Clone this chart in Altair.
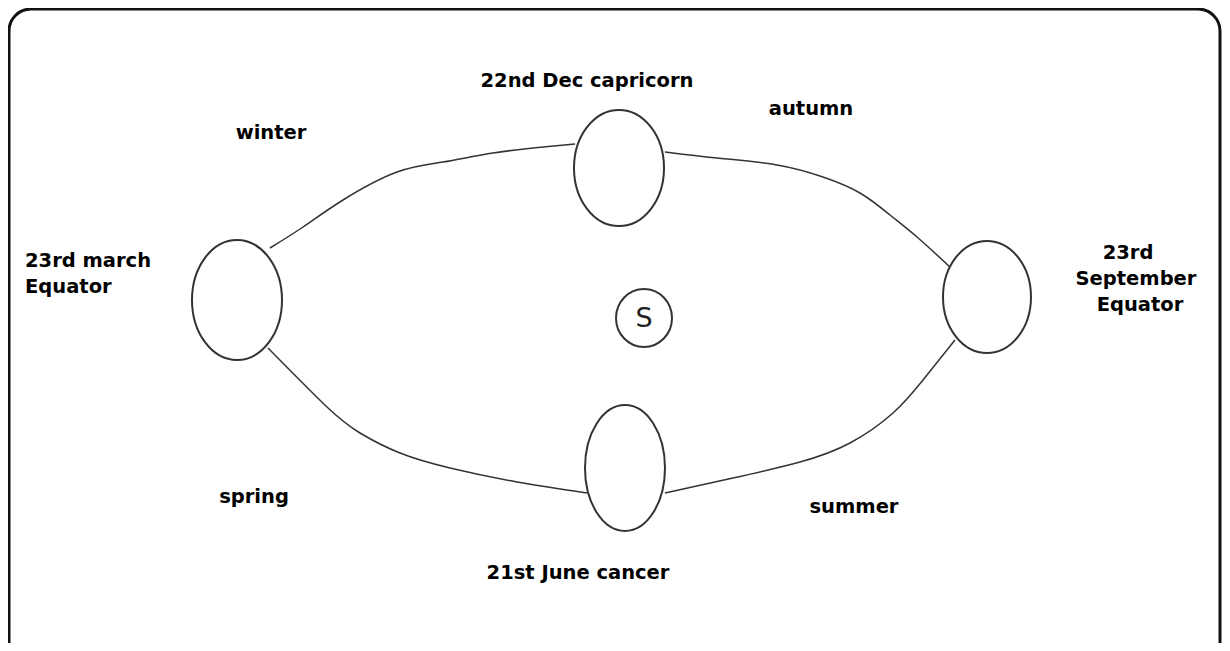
import altair as alt
import pandas as pd

# ---- data (reference pixel coordinates) ----
ellipse_names = ["march", "dec", "sept", "june", "sun"]
ellipse_cx = [237, 619, 987, 625, 644]
ellipse_cy = [300, 168, 297, 468, 318]
ellipse_rx = [45, 45, 44, 40, 28]
ellipse_ry = [60, 58, 56, 63, 29]

tl_x = [270, 303, 343, 397, 443, 493, 543, 575]
tl_y = [248, 227, 200, 172, 162, 153, 147, 144]
tr_x = [665, 717, 777, 823, 860, 890, 917, 950]
tr_y = [152, 158, 165, 177, 193, 215, 237, 267]
bl_x = [268, 327, 360, 400, 450, 517, 587]
bl_y = [348, 407, 433, 453, 468, 482, 493]
br_x = [665, 733, 800, 850, 893, 923, 955]
br_y = [493, 478, 462, 443, 413, 380, 340]

label_text = ["22nd Dec capricorn", "winter", "autumn", "23rd march", "Equator",
              "23rd", "September", "Equator", "spring", "summer", "21st June cancer"]
label_x = [587, 271, 811, 25, 25, 1128, 1136, 1140, 254, 854, 578]
label_y = [81, 133, 109, 261, 287, 253, 279, 305, 497, 507, 573]
label_align = ["center", "center", "center", "left", "left",
               "center", "center", "center", "center", "center", "center"]

sun_label = ["S"]
frame_x = [9]
frame_x2 = [1220]
frame_y = [9]
frame_y2 = [643]

# ---- scales map reference pixels onto the page ----
xs = alt.Scale(domain=[8, 1222], nice=False, zero=False)
ys = alt.Scale(domain=[8, 643], nice=False, zero=False, reverse=True)


def X(f):
    return alt.X(f, type="quantitative", scale=xs, axis=None)


def Y(f):
    return alt.Y(f, type="quantitative", scale=ys, axis=None)


def ellipse_path(a):
    k = 0.5523
    return (f"M 0 -1 C {k*a:.4f} -1 {a:.4f} {-k:.4f} {a:.4f} 0 "
            f"C {a:.4f} {k:.4f} {k*a:.4f} 1 0 1 "
            f"C {-k*a:.4f} 1 {-a:.4f} {k:.4f} {-a:.4f} 0 "
            f"C {-a:.4f} {-k:.4f} {-k*a:.4f} -1 0 -1 Z")


ell = pd.DataFrame({
    "name": ellipse_names,
    "cx": ellipse_cx,
    "cy": ellipse_cy,
    "size": [(2 * r) ** 2 for r in ellipse_ry],
})
shape_range = [ellipse_path(rx / ry) for rx, ry in zip(ellipse_rx, ellipse_ry)]

rows = []
for cid, xsx, ysy in [("tl", tl_x, tl_y), ("tr", tr_x, tr_y), ("bl", bl_x, bl_y), ("br", br_x, br_y)]:
    for i, (a, b) in enumerate(zip(xsx, ysy)):
        rows.append({"id": cid, "x": a, "y": b, "o": i})
curves = pd.DataFrame(rows)
labels = pd.DataFrame({"t": label_text, "x": label_x, "y": label_y, "al": label_align})
frame = pd.DataFrame({"x": frame_x, "x2": frame_x2, "y": frame_y, "y2": frame_y2})
sun = pd.DataFrame({"t": sun_label, "x": [ellipse_cx[-1]], "y": [ellipse_cy[-1] + 1]})

frame_layer = alt.Chart(frame).mark_rect(
    filled=False, stroke="#111", strokeWidth=3, cornerRadius=22, y2Offset=30, clip=True
).encode(x=X("x"), x2="x2", y=Y("y"), y2="y2")

curve_layer = alt.Chart(curves).mark_line(
    interpolate="natural", color="#333", strokeWidth=1.5
).encode(x=X("x"), y=Y("y"), detail="id:N", order="o:Q")

ell_layer = alt.Chart(ell).mark_point(
    filled=False, color="#333", strokeWidth=2, opacity=1
).encode(
    x=X("cx"), y=Y("cy"),
    shape=alt.Shape("name:N", scale=alt.Scale(domain=ellipse_names, range=shape_range), legend=None),
    size=alt.Size("size:Q", scale=None),
)

font_kw = dict(font="DejaVu Sans", fontWeight="bold", fontSize=19.5, color="#000", baseline="middle")

text_left = alt.Chart(labels).transform_filter(alt.datum.al == "left").mark_text(
    align="left", **font_kw
).encode(x=X("x"), y=Y("y"), text="t:N")

text_center = alt.Chart(labels).transform_filter(alt.datum.al == "center").mark_text(
    align="center", **font_kw
).encode(x=X("x"), y=Y("y"), text="t:N")

sun_text = alt.Chart(sun).mark_text(
    align="center", baseline="middle", font="DejaVu Sans", fontSize=27, color="#222"
).encode(x=X("x"), y=Y("y"), text="t:N")

chart = alt.layer(frame_layer, curve_layer, ell_layer, text_left, text_center, sun_text).properties(
    width=1214, height=635, padding=0, background="white",
    autosize=alt.AutoSizeParams(type="none"),
).configure_view(stroke=None)

chart.save("out.html", embed_options={"renderer": "svg", "actions": False})
